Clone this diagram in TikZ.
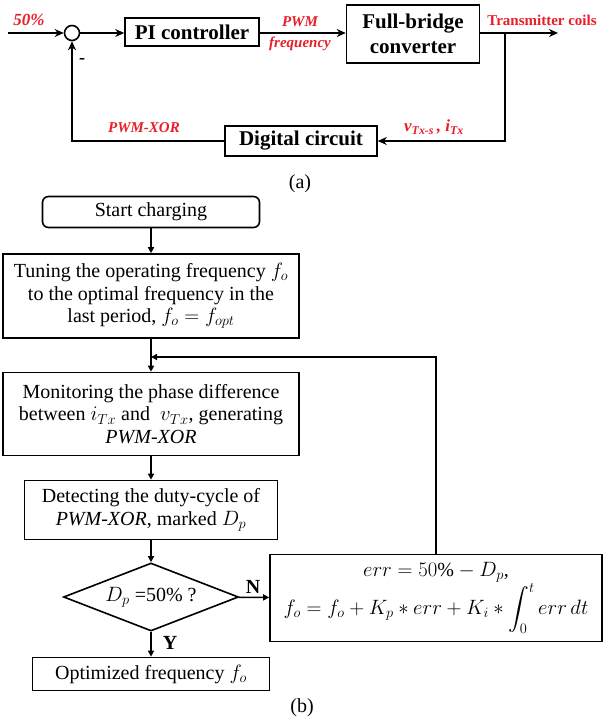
\documentclass[tikz,border=0pt]{standalone}
\usepackage{fontspec}
\setmainfont{Liberation Serif}
\usepackage{amsmath}
\usetikzlibrary{shapes.geometric,arrows.meta}
\definecolor{sigred}{RGB}{232,30,40}

\begin{document}
\begin{tikzpicture}[x=1pt,y=-1pt]
            \tikzstyle{every node}+=[inner sep=0pt]
            \tikzstyle{blk}=[draw, line width=1.6pt]
            \tikzstyle{bbox}=[blk, align=center, font=\fontsize{21}{25}\selectfont\bfseries]
            \tikzstyle{fbox}=[blk, align=center, font=\fontsize{20}{22.5}\selectfont]
            \tikzstyle{sig}=[line width=1.6pt, -{Stealth[length=9pt,width=8pt]}]
            \tikzstyle{flow}=[line width=1.4pt, -{Triangle[length=6pt,width=6pt]}]
            \tikzstyle{lbl}=[text=sigred, font=\fontsize{15}{17}\selectfont\bfseries\itshape]
            \useasboundingbox (0,0) rectangle (603,726);
            \node [blk, circle, minimum size=15pt] (sum) at (72,33) {};
            \node [bbox, minimum width=134pt, minimum height=28pt] (pi) at (192,32) {PI controller};
            \node [bbox, minimum width=133pt, minimum height=58pt] (fb) at (413,34) {Full-bridge\\converter};
            \node [bbox, minimum width=152pt, minimum height=30pt] (dc) at (301,141) {Digital circuit};
            \coordinate (in) at (8,33);
            \coordinate (out) at (558,33);
            \coordinate (tap) at (505,33);
            \coordinate (tapd) at (505,141);
            \coordinate (fbk) at (72,141);
            \draw [sig] (in) -- (sum);
            \draw [sig] (sum) -- (sum -| pi.west);
            \draw [sig] (pi.east |- sum) -- (sum -| fb.west);
            \draw [sig] (fb.east |- out) -- (out);
            \draw [sig] (tap) -- (tapd) -- (dc);
            \draw [sig] (dc) -- (fbk) -- (sum);
            \node [lbl, font=\fontsize{17}{19}\selectfont\bfseries\itshape] (ref) at (29,20) {50\%};
            \node [font=\fontsize{18}{20}\selectfont\bfseries] (neg) at (82,61) {-};
            \node [lbl] (pwm) at (300,22) {PWM};
            \node [lbl] (freq) at (300,44) {frequency};
            \node [lbl, font=\fontsize{15}{17}\selectfont\bfseries] (coil) at (542,20) {Transmitter coils};
            \node [lbl, font=\fontsize{17}{19}\selectfont\bfseries\itshape] (meas) at (434,127) {v\textsubscript{Tx-s}\,, i\textsubscript{Tx}};
            \node [lbl] (xor) at (144,128) {PWM-XOR};
            \node [font=\fontsize{20}{22}\selectfont] (capa) at (300,184) {(a)};
            \node [fbox, rounded corners=6pt, minimum width=217pt, minimum height=31pt] (start) at (151,212) {Start charging};
            \node [fbox, minimum width=296pt, minimum height=84pt] (tune) at (151,296) {Tuning the operating frequency $f_o$\\to the optimal frequency in the\\last period, $f_o = f_{opt}$};
            \node [fbox, minimum width=296pt, minimum height=83pt] (mon) at (151,414) {Monitoring the phase difference\\between $i_{Tx}$ and\ \ $v_{Tx}$, generating\\\textit{PWM-XOR}};
            \node [fbox, minimum width=253pt, minimum height=59pt] (det) at (151,510) {Detecting the duty-cycle of\\\textit{PWM-XOR}, marked $D_p$};
            \node [fbox, diamond, aspect=2.6, minimum width=175pt, minimum height=68pt] (dia) at (151,597) {$D_p$ =50\% ?};
            \node [fbox, minimum width=332pt, minimum height=87pt, font=\fontsize{20}{38}\selectfont] (fml) at (436,598) {$err = 50\% - D_p$,\\$f_o = f_o + K_p * err + K_i * \displaystyle\int_0^t err\,dt$};
            \node [fbox, minimum width=237pt, minimum height=33pt] (opt) at (151,674) {Optimized frequency $f_o$};
            \coordinate (jn) at (151,357);
            \draw [flow] (start) -- (tune);
            \draw [flow] (tune) -- (mon);
            \draw [flow] (fml.north) |- (jn);
            \draw [flow] (mon) -- (det);
            \draw [flow] (det) -- (dia);
            \draw [flow] (dia) -- (fml);
            \draw [flow] (dia) -- (opt);
            \node [font=\fontsize{20}{22}\selectfont\bfseries] (no) at (253,587) {N};
            \node [font=\fontsize{20}{22}\selectfont\bfseries] (yes) at (170,643) {Y};
            \node [font=\fontsize{20}{22}\selectfont] (capb) at (302,708) {(b)};
\end{tikzpicture}
\end{document}
